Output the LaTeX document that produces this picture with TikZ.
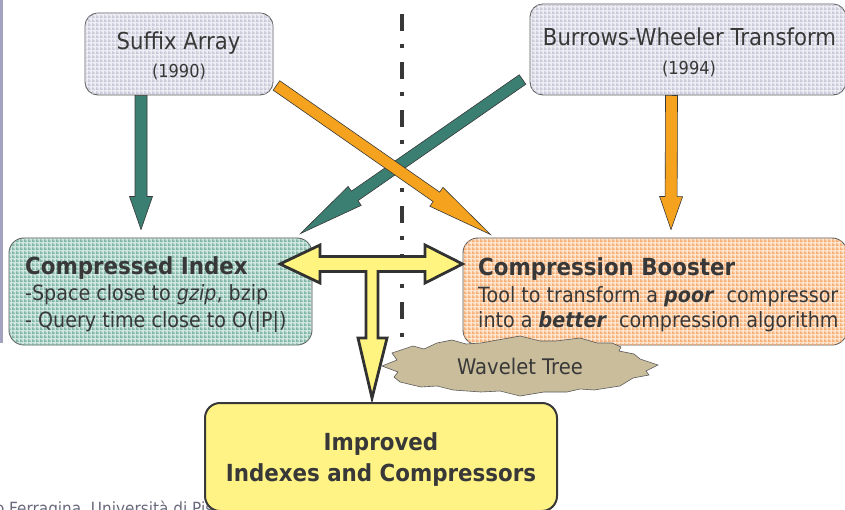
\documentclass[tikz,border=0pt]{standalone}
\usepackage{fontspec}
\setmainfont{DejaVu Sans}[FakeStretch=0.91]
\usetikzlibrary{calc,patterns.meta}

\definecolor{ink}{HTML}{383838}
\definecolor{edge}{HTML}{5A5A5A}
\definecolor{tealA}{HTML}{3B7F72}
\definecolor{orangeA}{HTML}{F5A31F}
\definecolor{yellowA}{HTML}{FFF47F}
\definecolor{yellowBox}{HTML}{FFF386}
\definecolor{burstFill}{HTML}{C9BD9C}
\definecolor{greyBase}{HTML}{EEEEF4}
\definecolor{greyLine}{HTML}{C4C4D6}
\definecolor{tealBase}{HTML}{D2E8E1}
\definecolor{tealLine}{HTML}{74AF9E}
\definecolor{orangeBase}{HTML}{FFE6CF}
\definecolor{orangeLine}{HTML}{F6A669}
\definecolor{sidebar}{HTML}{A3A3C0}
\definecolor{footGrey}{HTML}{6A6A7C}

% woven texture used inside the boxes
\tikzdeclarepattern{
  name=weave,
  type=uncolored,
  bottom left={(0pt,0pt)},
  top right={(4pt,4pt)},
  tile size={(4pt,4pt)},
  code={
    \pgfsetlinewidth{1.3pt}
    \pgfpathmoveto{\pgfpoint{0pt}{1pt}}\pgfpathlineto{\pgfpoint{4pt}{1pt}}
    \pgfpathmoveto{\pgfpoint{1pt}{0pt}}\pgfpathlineto{\pgfpoint{1pt}{4pt}}
    \pgfusepath{stroke}
  }
}

% block arrow: [style]{from}{to}{shaft width}{head length}{head width}
\newcommand\blockarrow[6][]{%
  \coordinate (ba-head) at ($(#3)!#5!(#2)$);
  \path[#1] ($(#2)!#4/2!90:(#3)$) -- ($(ba-head)!#4/2!90:(#3)$)
    -- ($(ba-head)!#6/2!90:(#3)$) -- (#3)
    -- ($(ba-head)!#6/2!-90:(#3)$) -- ($(ba-head)!#4/2!-90:(#3)$)
    -- ($(#2)!#4/2!-90:(#3)$) -- cycle;
}

\tikzset{
  box/.style={draw=edge, line width=0.9pt, rounded corners=13pt, inner sep=0pt},
  greybox/.style={box, fill=greyBase, postaction={pattern=weave, pattern color=greyLine}},
  tealbox/.style={box, fill=tealBase, postaction={pattern=weave, pattern color=tealLine}},
  orangebox/.style={box, fill=orangeBase, postaction={pattern=weave, pattern color=orangeLine}},
  txt/.style={inner sep=0pt, text=ink},
  tealarrow/.style={fill=tealA, draw=ink, line width=0.6pt, line join=miter},
  orangearrow/.style={fill=orangeA, draw=ink, line width=0.6pt, line join=miter},
  big/.style={font=\fontsize{23.3}{27}\selectfont},
  year/.style={font=\fontsize{17.8}{21}\selectfont},
  title/.style={font=\fontsize{23.5}{27}\selectfont\bfseries},
  body/.style={font=\fontsize{21}{24}\selectfont},
}

\begin{document}
\begin{tikzpicture}[x=1pt, y=-1pt]
\useasboundingbox (0,0) rectangle (845,510);

% side rule and credit line
\fill[sidebar] (0,0) rectangle (2.5,343);
\node[anchor=base west, inner sep=0pt, text=footGrey, font=\fontsize{16.8}{20}\selectfont]
  (credit) at (-36.7,514) {Paolo Ferragina, Università di Pisa};

% dash-dot divider
\coordinate (divTop) at (402,-34);
\coordinate (divBot) at (402,352);
\draw[ink, line width=4.5pt, dash pattern=on 17pt off 13.5pt on 4pt off 13.5pt] (divTop) -- (divBot);

% boxes
\node[greybox, minimum width=188pt, minimum height=82pt] (sa) at (179,54) {};
\node[greybox, minimum width=316pt, minimum height=91pt] (bwt) at (688,49.5) {};
\node[tealbox, minimum width=303pt, minimum height=107pt, rounded corners=15pt] (ci) at (160.5,291.5) {};
\node[orangebox, minimum width=384pt, minimum height=107pt, rounded corners=15pt] (cb) at (655,291.5) {};

\node[txt, big, anchor=base] (saT) at (178.5,50) {Suffix Array};
\node[txt, year, anchor=base] (saY) at (179,78) {(1990)};
\node[txt, big, anchor=base] (bwtT) at (689.5,46) {Burrows-Wheeler Transform};
\node[txt, year, anchor=base] (bwtY) at (689,75) {(1994)};

\node[txt, title, anchor=base west] (ciT) at (25,275) {Compressed Index};
\node[txt, body, anchor=base west] (ciA) at (25,301) {-Space close to \textit{gzip}, bzip};
\node[txt, body, anchor=base west] (ciB) at (25,327) {- Query time close to O(|P|)};

\node[txt, title, anchor=base west] (cbT) at (478,276) {Compression Booster};
\node[txt, body, anchor=base west] (cbA) at (478,302) {Tool to transform a \textbf{\textit{poor}}\ \ compressor};
\node[txt, body, anchor=base west] (cbB) at (478,327) {into a \textbf{\textit{better}}\ \ compression algorithm};

% arrows between the boxes
\blockarrow[tealarrow]{$(sa.south)+(-38,0)$}{$(ci.north)+(-19.5,-8)$}{12pt}{33pt}{23pt}
\blockarrow[tealarrow]{$(bwt.west)+(-7,30)$}{$(ci.north east)+(-12,-4)$}{11.5pt}{66pt}{23pt}
\blockarrow[orangearrow]{$(sa.south east)+(3,-10)$}{$(cb.north west)+(28,-3)$}{11.5pt}{66pt}{23pt}
\blockarrow[orangearrow]{$(bwt.south)+(-16.5,0)$}{$(cb.north)+(16,-8)$}{12pt}{33pt}{23pt}

% wavelet tree burst
\draw[fill=burstFill, draw=edge, line width=0.6pt]
  (382,366) -- (397,360) -- (392,353) -- (413,346) -- (424,349) -- (437,343) -- (452,340)
  -- (466,344) -- (481,343) -- (520,336) -- (540,341) -- (556,341) -- (580,338)
  -- (597,343) -- (612,343) -- (621,347)
  -- (619,351) -- (634,354) -- (640,359) -- (658,365) -- (646,371) -- (649,375) -- (633,378)
  -- (620,386) -- (594,390) -- (580,389) -- (567,392) -- (544,392) -- (520,396)
  -- (500,391) -- (481,392) -- (453,390) -- (437,386)
  -- (421,387) -- (400,382) -- (394,377) -- (398,372) -- cycle;
\node[txt, font=\fontsize{21.5}{25}\selectfont, anchor=base] (wt) at (520,374) {Wavelet Tree};

% T-shaped arrow joining the two results
\coordinate (tL) at (280,264);
\coordinate (tR) at (cb.west |- tL);
\coordinate (tD) at (372,398);
\draw[fill=yellowA, draw=ink!90!black, line width=2.8pt, line join=miter]
  (tL) -- (320,245) -- (320,256.5) -- (425,256.5) -- (425,245) -- (tR)
  -- (425,283) -- (425,271.5) -- (378,271.5) -- (378,338) -- (387,338) -- (tD)
  -- (358,338) -- (366,338) -- (366,271.5) -- (320,271.5) -- (320,283) -- cycle;

% result box
\node[draw=ink, line width=2pt, fill=yellowBox, rounded corners=15pt,
  minimum width=352pt, minimum height=108pt] (imp) at (381,457) {};
\node[txt, title, anchor=base] (impA) at (381,450) {Improved};
\node[txt, title, anchor=base] (impB) at (381,481.7) {Indexes and Compressors};
\end{tikzpicture}
\end{document}
